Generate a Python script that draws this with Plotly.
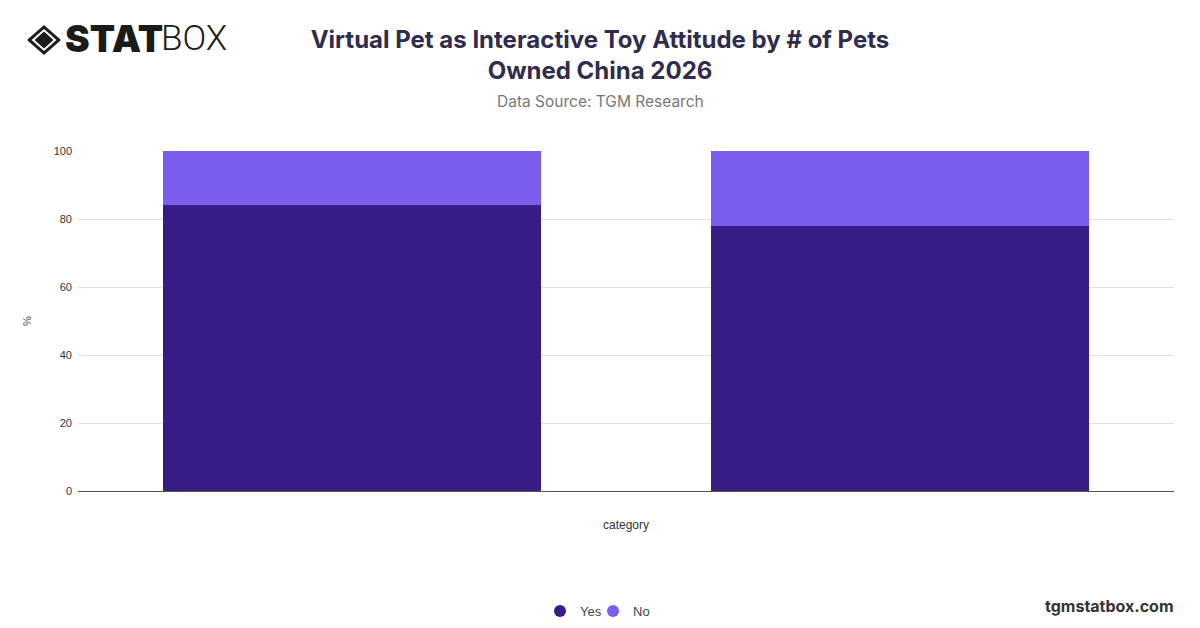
import plotly.graph_objects as go

categories = ["1 pet", "2+ pets"]
yes_values = [84, 78]
no_values = [16, 22]
series_names = ["Yes", "No"]
series_colors = ["#381d86", "#7c5eee"]
y_ticks = [0, 20, 40, 60, 80, 100]

W, H = 1200, 628
L, R, T, B = 78, 26, 151, 137

def px(x):
    return (x - L) / (W - L - R)

def py(y):
    return (H - B - y) / (H - T - B)

AXFONT = "Liberation Sans, Arial, sans-serif"
legend_ids = ["legend", "legend2"]
legend_left_px = [540, 593]

fig = go.Figure()
for name, vals, col in zip(series_names, [yes_values, no_values], series_colors):
    fig.add_trace(go.Bar(name=name, x=categories, y=vals, marker=dict(color=col, line=dict(width=0)),
                         showlegend=False, legendgroup=name,
                         hovertemplate="%{x}: %{y}%<extra>" + name + "</extra>"))
# legend entries with circle markers
for name, col, lid in zip(series_names, series_colors, legend_ids):
    fig.add_trace(go.Scatter(name=name, x=[None], y=[None], mode="markers", legendgroup=name,
                             legend=lid,
                             marker=dict(symbol="circle", size=15, color=col), showlegend=True))

legend_common = dict(orientation="h", xanchor="left", yref="container", y=1 - 611 / H,
                     yanchor="middle", font=dict(size=13, color="#444", family=AXFONT),
                     itemsizing="constant", itemwidth=30, bgcolor="rgba(0,0,0,0)")

fig.update_layout(
    width=W, height=H,
    margin=dict(l=L, r=R, t=T, b=B, autoexpand=False),
    barmode="stack", bargap=0.31,
    paper_bgcolor="white", plot_bgcolor="white",
    font=dict(family="Inter, Roboto, sans-serif", color="#444"),
    title=dict(text="<b>Virtual Pet as Interactive Toy Attitude by # of Pets<br>Owned China 2026</b>",
               x=0.5, xanchor="center", y=1 - 48 / H, yanchor="middle",
               font=dict(size=24, color="#2f2c4d", family="Inter, Roboto, sans-serif")),
    showlegend=True,
    legend=dict(x=px(legend_left_px[0]), **legend_common),
    legend2=dict(x=px(legend_left_px[1]), **legend_common),
    xaxis=dict(showticklabels=False, showgrid=False, zeroline=False, showline=True,
               linecolor="#555", linewidth=1, ticks="",
               title=dict(text="category", font=dict(size=12, color="#333", family=AXFONT), standoff=29)),
    yaxis=dict(range=[0, 100], tickvals=y_ticks, showgrid=True, gridcolor="#e2e2e2", gridwidth=1,
               zeroline=False, showline=False, ticks="", ticklabelstandoff=5,
               tickfont=dict(size=11, color="#333", family=AXFONT),
               title=dict(text="%", font=dict(size=11, color="#444", family=AXFONT), standoff=19)),
)

# subtitle
fig.add_annotation(text="Data Source: TGM Research", xref="paper", yref="paper",
                   x=px(600), y=py(101),
                   xanchor="center", yanchor="middle", showarrow=False,
                   font=dict(size=15.5, color="#777"))

# watermark
fig.add_annotation(text="<b>tgmstatbox.com</b>", xref="paper", yref="paper",
                   x=px(1176), y=py(606), xanchor="right", yanchor="middle", showarrow=False,
                   font=dict(size=16, color="#333"))

# logo text
fig.add_annotation(text="STAT", xref="paper", yref="paper", x=px(63), y=py(38),
                   xanchor="left", yanchor="middle", showarrow=False,
                   font=dict(size=37, color="#1b1b1b", family="Inter", weight=900))
fig.add_annotation(text="BOX", xref="paper", yref="paper", x=px(159), y=py(38),
                   xanchor="left", yanchor="middle", showarrow=False,
                   font=dict(size=35, color="#1b1b1b", family="Roboto", weight=300))

# logo diamond
def diamond(cx, cy, rx, ry):
    return (f"M {px(cx - rx)} {py(cy)} L {px(cx)} {py(cy - ry)} L {px(cx + rx)} {py(cy)} "
            f"L {px(cx)} {py(cy + ry)} Z")

fig.add_shape(type="path", xref="paper", yref="paper", path=diamond(44, 40, 17, 15),
              fillcolor="#1b1b1b", line=dict(width=0))
fig.add_shape(type="path", xref="paper", yref="paper", path=diamond(44, 40, 12.5, 11),
              fillcolor="white", line=dict(width=0))
fig.add_shape(type="path", xref="paper", yref="paper", path=diamond(44, 40, 9.5, 8.5),
              fillcolor="#1b1b1b", line=dict(width=0))

fig.write_html("out.html", config={"displayModeBar": False},
               post_script="document.body.style.margin='0';")
